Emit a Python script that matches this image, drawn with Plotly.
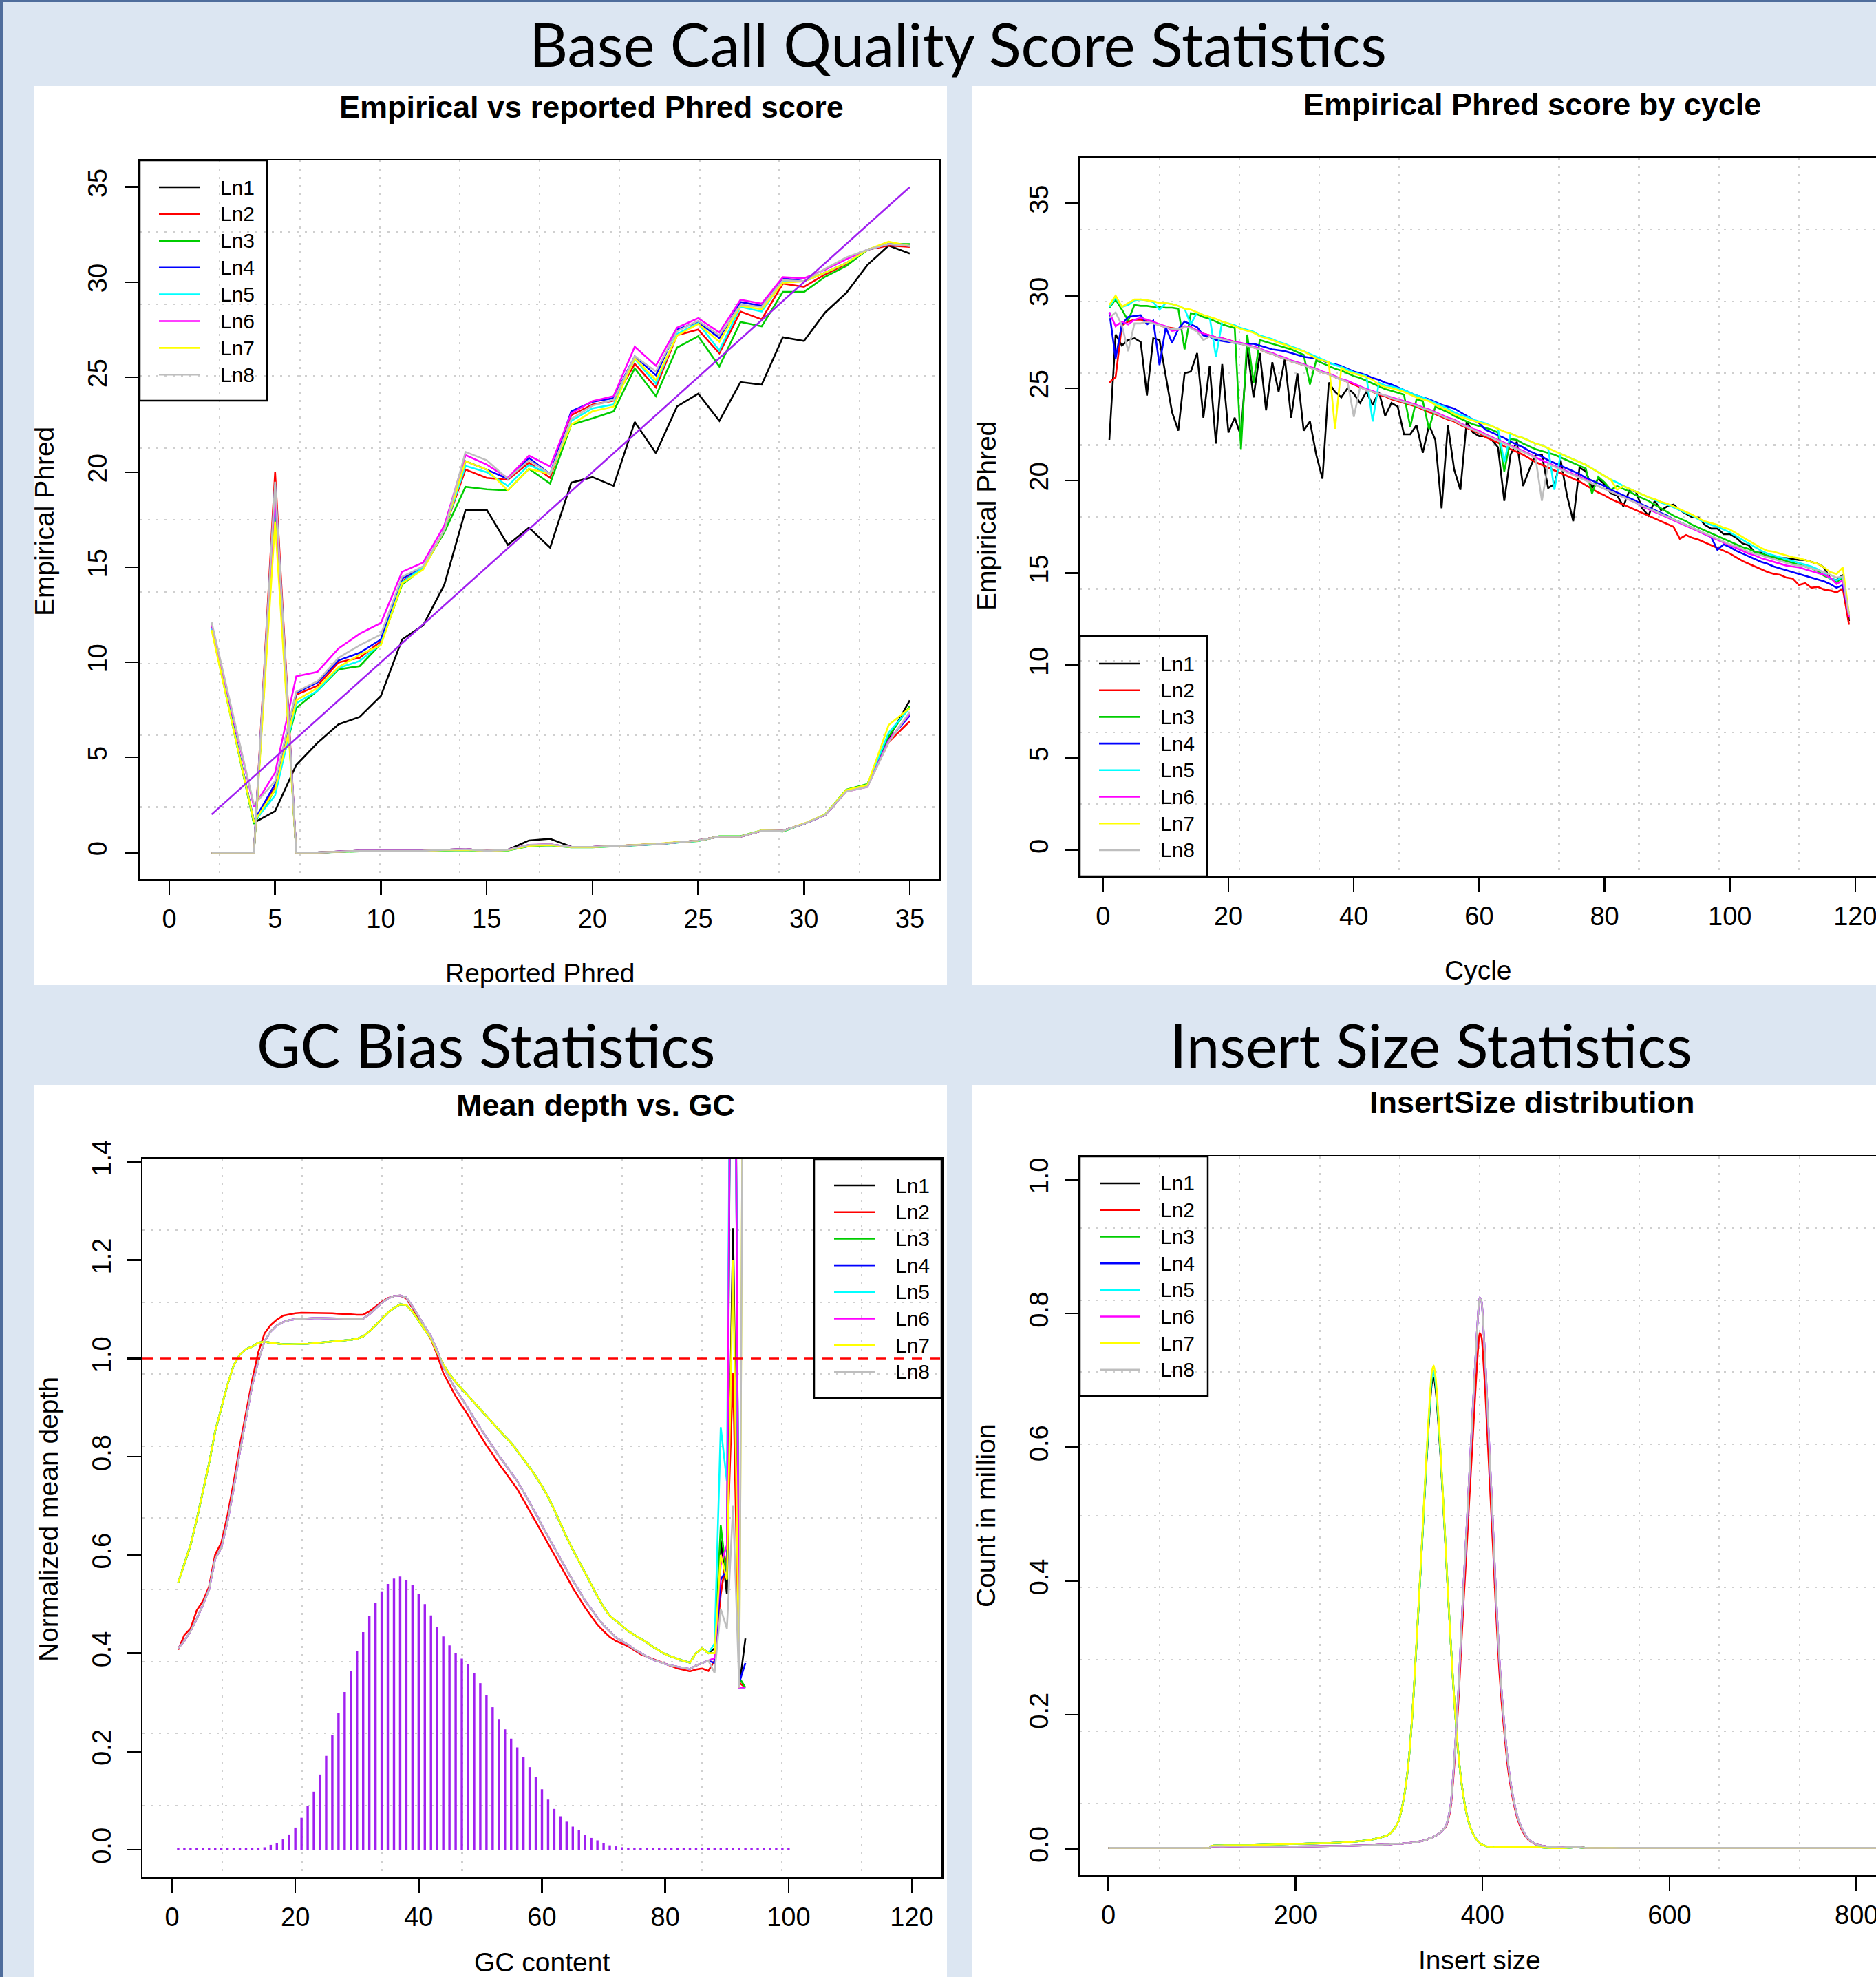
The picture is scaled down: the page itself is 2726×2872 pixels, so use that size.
import plotly.graph_objects as go

W, H = 2726, 2872
FONT = "Liberation Sans, Arial, Helvetica, sans-serif"
SLIDE_FONT = "Lato, Open Sans, sans-serif"

lanes = ["Ln1", "Ln2", "Ln3", "Ln4", "Ln5", "Ln6", "Ln7", "Ln8"]
lane_colors = ["#000000", "#FF0000", "#00CD00", "#0000FF", "#00FFFF", "#FF00FF", "#FFFF00", "#BEBEBE"]

# ---------------- Panel 1: Empirical vs reported Phred ----------------
phred_x = [2, 4, 5, 6, 7, 8, 9, 10, 11, 12, 13, 14, 15, 16, 17, 18, 19, 20, 21, 22, 23, 24, 25, 26, 27, 28, 29, 30, 31, 32, 33, 34, 35]
emp_ln1 = [11.9, 1.56, 2.17, 4.6, 5.76, 6.74, 7.13, 8.23, 11.2, 11.95, 14.08, 18.0, 18.03, 16.18, 17.08, 16.03, 19.45, 19.74, 19.28, 22.64, 21.0, 23.46, 24.13, 22.7, 24.74, 24.6, 27.1, 26.9, 28.4, 29.43, 30.9, 31.92, 31.5]
emp_ln2 = [11.9, 1.6, 3.4, 8.3, 8.77, 10.0, 10.24, 11.1, 14.26, 15.0, 16.96, 20.14, 19.7, 19.6, 20.5, 19.7, 23.0, 23.56, 23.76, 25.7, 24.46, 27.2, 27.5, 26.25, 28.45, 28.04, 29.92, 29.75, 30.4, 30.95, 31.7, 31.92, 31.85]
emp_ln3 = [11.8, 1.5, 3.3, 7.6, 8.5, 9.63, 9.8, 10.97, 14.08, 14.96, 16.84, 19.23, 19.1, 19.04, 20.18, 19.4, 22.5, 22.83, 23.2, 25.47, 24.0, 26.55, 27.15, 25.56, 27.9, 27.67, 29.48, 29.48, 30.28, 30.85, 31.7, 32.0, 32.0]
emp_ln4 = [11.9, 1.65, 3.6, 8.4, 8.94, 10.1, 10.5, 11.2, 14.4, 15.0, 16.96, 20.58, 20.14, 19.65, 20.75, 19.9, 23.2, 23.7, 23.9, 26.1, 25.1, 27.5, 27.9, 27.06, 28.95, 28.75, 30.2, 30.04, 30.5, 31.0, 31.7, 32.0, 31.9]
emp_ln5 = [11.8, 1.6, 3.0, 7.85, 8.5, 9.7, 10.07, 10.97, 14.2, 15.0, 16.96, 20.33, 20.0, 19.28, 20.38, 19.9, 22.7, 23.36, 23.56, 25.96, 24.66, 27.27, 27.84, 26.4, 28.7, 28.45, 30.04, 30.04, 30.5, 31.0, 31.7, 32.0, 31.9]
emp_ln6 = [12.0, 2.4, 4.2, 9.26, 9.5, 10.73, 11.5, 12.07, 14.76, 15.25, 17.2, 20.9, 20.4, 19.7, 20.87, 20.3, 23.1, 23.74, 24.0, 26.6, 25.6, 27.6, 28.1, 27.35, 29.07, 28.87, 30.26, 30.2, 30.65, 31.2, 31.7, 32.0, 31.9]
emp_ln7 = [11.7, 1.6, 3.3, 8.0, 8.65, 9.75, 10.4, 10.9, 14.15, 14.88, 16.96, 20.58, 20.14, 19.04, 20.18, 19.9, 22.5, 23.2, 23.45, 26.0, 24.85, 27.18, 27.8, 26.86, 28.75, 28.57, 29.97, 30.04, 30.5, 31.0, 31.7, 32.12, 31.9]
emp_ln8 = [12.1, 2.5, 3.75, 8.45, 9.0, 10.24, 10.9, 11.46, 14.5, 15.05, 16.96, 21.07, 20.63, 19.65, 20.63, 19.9, 22.8, 23.5, 23.8, 26.1, 25.3, 27.42, 27.96, 27.2, 28.8, 28.7, 30.1, 30.04, 30.7, 31.3, 31.7, 32.0, 31.9]

low_ln1 = [0, 0, 18.6, 0, 0, 0.04, 0.09, 0.09, 0.09, 0.09, 0.14, 0.17, 0.09, 0.14, 0.63, 0.72, 0.3, 0.29, 0.34, 0.39, 0.44, 0.53, 0.63, 0.83, 0.83, 1.14, 1.14, 1.5, 1.97, 3.22, 3.5, 6.0, 8.0]
low_ln2 = [0, 0, 20.0, 0, 0, 0.04, 0.09, 0.09, 0.09, 0.09, 0.14, 0.17, 0.09, 0.14, 0.39, 0.42, 0.29, 0.29, 0.34, 0.39, 0.44, 0.53, 0.63, 0.83, 0.83, 1.14, 1.14, 1.5, 1.97, 3.22, 3.5, 5.8, 6.9]
low_ln3 = [0, 0, 18.0, 0, 0, 0.03, 0.06, 0.06, 0.07, 0.07, 0.1, 0.12, 0.07, 0.1, 0.33, 0.38, 0.27, 0.27, 0.33, 0.38, 0.43, 0.52, 0.6, 0.85, 0.85, 1.16, 1.1, 1.5, 2.0, 3.3, 3.6, 6.1, 7.7]
low_ln4 = [0, 0, 19.4, 0, 0, 0.04, 0.09, 0.09, 0.09, 0.09, 0.14, 0.17, 0.09, 0.14, 0.39, 0.42, 0.29, 0.29, 0.34, 0.39, 0.44, 0.53, 0.63, 0.83, 0.83, 1.14, 1.14, 1.5, 1.97, 3.22, 3.5, 5.9, 7.2]
low_ln5 = [0, 0, 18.8, 0, 0, 0.03, 0.07, 0.07, 0.08, 0.08, 0.12, 0.14, 0.08, 0.12, 0.36, 0.4, 0.28, 0.28, 0.33, 0.38, 0.43, 0.52, 0.61, 0.84, 0.84, 1.15, 1.12, 1.5, 1.98, 3.25, 3.55, 6.3, 7.6]
low_ln6 = [0, 0, 19.0, 0, 0, 0.04, 0.09, 0.09, 0.09, 0.09, 0.14, 0.17, 0.09, 0.14, 0.4, 0.43, 0.29, 0.29, 0.34, 0.39, 0.44, 0.53, 0.63, 0.83, 0.83, 1.14, 1.14, 1.5, 1.97, 3.2, 3.45, 5.9, 7.3]
low_ln7 = [0, 0, 17.4, 0, 0, 0.03, 0.07, 0.07, 0.08, 0.08, 0.12, 0.14, 0.08, 0.12, 0.35, 0.39, 0.28, 0.28, 0.34, 0.39, 0.45, 0.54, 0.62, 0.84, 0.84, 1.16, 1.13, 1.52, 2.0, 3.28, 3.55, 6.7, 7.6]
low_ln8 = [0, 0, 19.5, 0, 0, 0.04, 0.09, 0.09, 0.09, 0.09, 0.14, 0.17, 0.09, 0.14, 0.4, 0.43, 0.29, 0.29, 0.34, 0.39, 0.44, 0.53, 0.63, 0.83, 0.83, 1.14, 1.14, 1.5, 1.97, 3.2, 3.45, 5.8, 7.4]

diag_x = [2, 35]
diag_y = [2, 35]

# ---------------- Panel 2: Empirical Phred by cycle ----------------
cycle_x = list(range(1, 120))
cyc_ln1 = [22.2, 27.9, 27.3, 27.6, 27.7, 27.5, 24.6, 27.7, 27.6, 25.6,
           23.7, 22.7, 25.8, 25.9, 26.9, 23.4, 26.2, 22.0, 26.3, 22.6,
           23.4, 22.4, 27.2, 24.5, 26.9, 23.8, 26.4, 24.8, 26.6, 23.4,
           25.8, 22.7, 23.2, 21.4, 20.1, 25.3, 24.8, 24.5, 25.0, 24.7,
           24.2, 24.8, 24.1, 24.8, 23.5, 24.2, 24.0, 22.5, 22.5, 23.0,
           21.5, 23.0, 22.2, 18.5, 23.0, 20.6, 19.5, 23.2, 22.6, 22.4,
           22.4, 22.2, 21.8, 18.9, 21.4, 22.1, 19.7, 20.6, 21.4, 21.4,
           19.6, 19.8, 21.1, 19.2, 17.8, 20.7, 20.5, 19.6, 20.1, 19.8,
           19.3, 19.2, 18.6, 19.5, 19.4, 18.5, 18.1, 18.9, 18.4, 18.6,
           18.7, 18.4, 18.2, 18.0, 18.0, 17.6, 17.4, 17.4, 17.1, 17.1,
           16.9, 16.6, 16.5, 16.1, 16.1, 15.9, 15.9, 15.8, 15.8, 15.75,
           15.7, 15.7, 15.6, 15.5, 15.3, 14.7, 14.6, 14.9, 12.4]
cyc_ln2 = [25.3, 25.6, 28.4, 28.6, 28.7, 28.7, 28.65, 28.55, 28.4, 28.3,
           28.25, 28.2, 28.3, 28.3, 28.1, 27.95, 27.85, 27.75, 27.7, 27.6,
           27.5, 27.4, 27.3, 27.2, 27.1, 26.95, 26.85, 26.7, 26.6, 26.45,
           26.35, 26.25, 26.1, 26.0, 25.85, 25.75, 25.6, 25.45, 25.35, 25.2,
           25.05, 24.9, 24.8, 24.65, 24.55, 24.4, 24.3, 24.2, 24.1, 24.0,
           23.85, 23.7, 23.6, 23.45, 23.3, 23.2, 23.0, 22.85, 22.7, 22.55,
           22.35, 22.2, 22.05, 21.85, 21.7, 21.55, 21.4, 21.2, 21.0, 20.85,
           20.7, 20.55, 20.4, 20.25, 20.1, 19.95, 19.75, 19.55, 19.35, 19.2,
           19.0, 18.85, 18.7, 18.55, 18.4, 18.25, 18.1, 17.95, 17.8, 17.65,
           17.5, 16.85, 17.05, 16.9, 16.8, 16.65, 16.5, 16.35, 16.2, 16.05,
           15.85, 15.65, 15.5, 15.35, 15.2, 15.05, 14.95, 14.9, 14.75, 14.7,
           14.35, 14.45, 14.2, 14.25, 14.1, 14.05, 13.95, 14.15, 12.2]
cyc_ln3 = [29.35, 29.8, 29.25, 28.65, 29.5, 29.45, 29.45, 29.4, 29.4, 29.35,
           29.35, 29.3, 27.1, 29.05, 29.0, 28.85, 28.75, 28.6, 28.45, 28.35,
           28.25, 21.7, 27.9, 25.3, 27.6, 27.5, 27.4, 27.3, 27.2, 27.1,
           26.95, 26.8, 25.2, 26.5, 26.35, 26.2, 26.05, 25.95, 25.8, 25.65,
           25.55, 25.4, 25.25, 25.1, 24.95, 24.85, 24.75, 24.65, 22.9, 24.4,
           24.3, 22.8, 24.0, 23.85, 23.7, 23.5, 23.35, 23.2, 23.05, 22.95,
           22.85, 22.75, 22.6, 20.5, 22.25, 22.2, 22.0, 21.85, 21.7, 21.6,
           21.5, 21.4, 21.25, 21.1, 20.95, 20.8, 20.65, 19.3, 20.2, 19.9,
           19.5, 19.7, 19.55, 19.4, 19.2, 19.05, 18.9, 18.7, 18.5, 18.3,
           18.1, 17.95, 17.8, 17.6, 17.45, 17.3, 17.15, 17.0, 16.85, 16.7,
           16.55, 16.4, 16.3, 16.15, 16.05, 15.95, 15.85, 15.75, 15.65, 15.55,
           15.45, 15.35, 15.25, 15.1, 14.85, 14.7, 14.5, 14.75, 12.7]
cyc_ln4 = [29.1, 26.6, 28.45, 28.85, 28.9, 28.95, 28.45, 28.65, 26.25, 28.3,
           27.45, 28.2, 28.6, 28.45, 28.3, 27.85, 27.8, 27.6, 27.55, 27.5,
           27.45, 27.4, 27.4, 27.4, 27.3, 27.2, 27.1, 27.05, 27.0, 26.9,
           26.8, 26.7, 26.65, 26.6, 26.5, 26.35, 26.3, 26.2, 26.05, 25.9,
           25.8, 25.7, 25.55, 25.45, 25.3, 25.2, 25.05, 24.9, 24.75, 24.6,
           24.5, 24.4, 24.25, 24.1, 24.0, 23.9, 23.7, 23.5, 23.3, 23.1,
           22.75, 22.6, 22.45, 22.3, 22.1, 21.95, 21.8, 21.6, 21.45, 21.3,
           21.1, 20.95, 20.8, 20.65, 20.5, 20.35, 20.15, 20.0, 19.85, 19.7,
           19.5, 19.35, 19.2, 19.05, 18.9, 18.7, 18.55, 18.4, 18.25, 18.1,
           17.9, 17.75, 17.6, 17.45, 17.3, 17.1, 16.95, 16.25, 16.55, 16.4,
           16.2, 16.05, 15.9, 15.75, 15.6, 15.5, 15.35, 15.25, 15.15, 15.05,
           14.95, 14.85, 14.75, 14.65, 14.55, 14.4, 14.2, 14.35, 12.7]
cyc_ln5 = [29.4, 29.9, 29.4, 29.5, 29.75, 29.8, 29.75, 29.65, 29.25, 29.6,
           29.55, 29.45, 29.3, 28.45, 29.1, 28.95, 28.85, 26.7, 28.6, 28.5,
           28.4, 28.25, 28.15, 28.05, 27.85, 27.75, 27.65, 27.5, 27.4, 27.25,
           27.15, 27.0, 26.85, 26.7, 26.55, 26.4, 26.25, 26.15, 26.0, 25.85,
           25.75, 25.65, 23.2, 25.3, 25.15, 25.1, 25.0, 24.9, 24.75, 24.6,
           24.5, 24.35, 24.2, 24.05, 23.9, 23.7, 23.55, 23.45, 23.3, 23.2,
           23.1, 22.95, 22.8, 21.0, 22.55, 22.4, 22.3, 22.15, 22.0, 21.9,
           21.75, 19.5, 21.45, 21.3, 21.15, 21.0, 20.85, 20.65, 20.45, 20.25,
           20.05, 19.9, 19.7, 19.55, 19.4, 19.25, 19.1, 18.95, 18.8, 18.7,
           18.55, 18.4, 18.25, 18.1, 17.9, 17.75, 17.6, 17.5, 17.35, 17.2,
           17.0, 16.8, 16.6, 16.4, 16.2, 16.05, 15.95, 15.85, 15.75, 15.65,
           15.55, 15.45, 15.35, 15.2, 15.0, 14.7, 14.6, 14.8, 12.7]
cyc_ln6 = [29.1, 28.35, 28.6, 28.45, 28.7, 28.8, 28.7, 28.6, 28.45, 28.35,
           28.1, 28.15, 28.35, 28.3, 28.1, 27.95, 27.85, 27.75, 27.7, 27.6,
           27.5, 27.45, 27.35, 27.25, 27.15, 27.0, 26.9, 26.75, 26.65, 26.5,
           26.4, 26.3, 26.15, 26.05, 25.9, 25.8, 25.65, 25.5, 25.4, 25.25,
           25.1, 24.95, 24.85, 24.7, 24.6, 24.5, 24.4, 24.3, 24.2, 24.1,
           23.95, 23.85, 23.7, 23.55, 23.4, 23.3, 23.1, 22.95, 22.8, 22.7,
           22.5, 22.35, 22.2, 22.05, 21.9, 21.75, 21.6, 21.45, 21.25, 21.1,
           20.95, 20.8, 20.65, 20.5, 20.35, 20.2, 20.05, 19.85, 19.7, 19.55,
           19.4, 19.25, 19.1, 18.95, 18.8, 18.6, 18.45, 18.3, 18.15, 18.0,
           17.85, 17.7, 17.55, 17.4, 17.25, 17.1, 16.95, 16.8, 16.65, 16.5,
           16.35, 16.2, 16.05, 15.95, 15.8, 15.7, 15.6, 15.5, 15.4, 15.35,
           15.3, 15.2, 15.1, 15.0, 14.9, 14.75, 14.4, 14.6, 12.6]
cyc_ln7 = [29.5, 30.0, 29.4, 29.6, 29.8, 29.8, 29.75, 29.7, 29.6, 29.6,
           29.55, 29.45, 29.3, 29.25, 29.1, 28.95, 28.85, 28.75, 28.6, 28.5,
           28.35, 28.2, 28.1, 28.0, 27.8, 27.7, 27.6, 27.45, 27.35, 27.2,
           27.1, 27.0, 26.8, 26.6, 26.5, 26.4, 22.8, 26.1, 25.9, 25.8,
           25.7, 25.6, 25.45, 25.2, 25.05, 25.0, 24.9, 24.8, 24.65, 24.5,
           24.4, 24.3, 24.1, 23.95, 23.8, 23.6, 23.45, 23.35, 23.25, 23.15,
           23.05, 22.95, 22.8, 22.65, 22.55, 22.4, 22.3, 22.15, 22.0, 21.9,
           21.75, 21.6, 21.45, 21.3, 21.15, 21.0, 20.85, 20.65, 20.45, 20.25,
           20.05, 19.5, 19.7, 19.55, 19.4, 19.25, 19.1, 19.0, 18.85, 18.75,
           18.6, 18.45, 18.3, 18.15, 17.95, 17.8, 17.7, 17.6, 17.45, 17.35,
           17.15, 16.95, 16.75, 16.55, 16.35, 16.2, 16.15, 16.05, 15.95, 15.85,
           15.8, 15.7, 15.6, 15.5, 15.3, 15.05, 14.95, 15.3, 12.75]
cyc_ln8 = [28.8, 29.1, 28.4, 27.0, 28.5, 28.5, 28.6, 28.5, 28.4, 28.3,
           28.2, 28.2, 28.3, 28.25, 28.05, 27.6, 27.8, 27.7, 27.65, 27.55,
           27.45, 27.4, 27.3, 27.2, 27.1, 26.95, 26.85, 26.7, 26.6, 26.45,
           26.35, 26.25, 26.1, 26.0, 25.85, 25.75, 25.6, 25.45, 25.35, 23.45,
           25.05, 24.9, 24.8, 24.7, 24.6, 24.45, 24.35, 24.25, 24.15, 24.05,
           23.9, 23.8, 23.65, 23.5, 23.35, 23.25, 23.05, 22.9, 22.75, 22.6,
           22.45, 22.3, 22.15, 22.0, 21.85, 21.7, 21.55, 21.4, 21.2, 18.9,
           20.9, 20.75, 20.6, 20.45, 20.3, 20.15, 20.0, 19.85, 19.7, 19.55,
           19.4, 19.25, 19.1, 18.95, 18.8, 18.65, 18.5, 18.35, 18.2, 18.05,
           17.9, 17.75, 17.6, 17.45, 17.3, 17.15, 17.0, 16.85, 16.7, 16.55,
           16.45, 16.3, 16.15, 16.05, 15.95, 15.85, 15.75, 15.65, 15.55, 15.45,
           15.4, 15.35, 15.25, 15.15, 15.05, 14.9, 14.75, 14.8, 12.7]

# ---------------- Panel 3: Mean depth vs GC ----------------
gc_x = list(range(1, 94))
gc_body_A = [0.544, 0.582, 0.620, 0.672, 0.729, 0.786, 0.852, 0.899, 0.947, 0.986,
             1.008, 1.019, 1.024, 1.032, 1.034, 1.032, 1.030, 1.029, 1.029, 1.029,
             1.029, 1.030, 1.031, 1.032, 1.033, 1.034, 1.035, 1.036, 1.038, 1.040,
             1.045, 1.055, 1.067, 1.080, 1.093, 1.103, 1.110, 1.109, 1.095, 1.076,
             1.058, 1.041, 1.013, 0.988, 0.968, 0.952, 0.938, 0.924, 0.910, 0.896,
             0.882, 0.868, 0.855, 0.841, 0.828, 0.812, 0.795, 0.778, 0.760, 0.740,
             0.718, 0.692, 0.664, 0.636, 0.611, 0.587, 0.563, 0.540, 0.516, 0.494,
             0.476, 0.466, 0.455, 0.445, 0.437, 0.430, 0.422, 0.413, 0.405, 0.398,
             0.393, 0.388, 0.384, 0.381, 0.400, 0.410, 0.400]
gc_body_red = [0.407, 0.437, 0.450, 0.487, 0.506, 0.535, 0.601, 0.625, 0.681, 0.748,
               0.823, 0.890, 0.956, 1.013, 1.051, 1.068, 1.079, 1.087, 1.090, 1.092,
               1.093, 1.093, 1.093, 1.093, 1.092, 1.092, 1.091, 1.091, 1.090, 1.089,
               1.089, 1.096, 1.106, 1.115, 1.123, 1.127, 1.128, 1.122, 1.103, 1.081,
               1.060, 1.039, 1.008, 0.970, 0.947, 0.923, 0.904, 0.885, 0.863, 0.842,
               0.823, 0.805, 0.786, 0.769, 0.752, 0.734, 0.712, 0.690, 0.668, 0.645,
               0.622, 0.600, 0.578, 0.556, 0.533, 0.512, 0.493, 0.475, 0.458, 0.445,
               0.433, 0.425, 0.419, 0.414, 0.406, 0.398, 0.393, 0.388, 0.383, 0.378,
               0.374, 0.369, 0.366, 0.363, 0.367, 0.369, 0.364]
gc_body_B = [0.410, 0.425, 0.445, 0.470, 0.498, 0.530, 0.592, 0.615, 0.668, 0.735,
             0.810, 0.878, 0.945, 0.995, 1.035, 1.055, 1.067, 1.074, 1.078, 1.080,
             1.081, 1.082, 1.082, 1.082, 1.082, 1.082, 1.081, 1.081, 1.080, 1.080,
             1.081, 1.090, 1.102, 1.113, 1.122, 1.127, 1.128, 1.124, 1.106, 1.085,
             1.065, 1.045, 1.017, 0.982, 0.960, 0.937, 0.918, 0.899, 0.878, 0.858,
             0.839, 0.821, 0.802, 0.785, 0.768, 0.750, 0.729, 0.707, 0.684, 0.660,
             0.637, 0.615, 0.592, 0.570, 0.548, 0.527, 0.507, 0.490, 0.472, 0.457,
             0.445, 0.432, 0.424, 0.417, 0.408, 0.400, 0.393, 0.387, 0.382, 0.378,
             0.375, 0.372, 0.370, 0.368, 0.375, 0.380, 0.385]
gc_tail_ln1 = [0.41, 0.63, 0.52, 1.265, 0.33, 0.43]
gc_tail_ln2 = [0.385, 0.52, 0.60, 0.97, 0.34, 0.33]
gc_tail_ln3 = [0.40, 0.66, 0.55, 2.5, 0.35, 0.33]
gc_tail_ln4 = [0.38, 0.55, 0.57, 2.5, 0.34, 0.38]
gc_tail_ln5 = [0.42, 0.86, 0.75, 2.5, 0.33, 0.33]
gc_tail_ln6 = [0.39, 0.58, 0.62, 2.5, 0.33, 0.33]
gc_tail_ln7 = [0.40, 0.60, 0.55, 1.2, 0.33, 2.5]
gc_tail_ln8 = [0.36, 0.49, 0.45, 0.70, 0.33, 2.5]

gc_bins = list(range(1, 101))
gc_hist = [0.003, 0.003, 0.003, 0.003, 0.003, 0.003, 0.003, 0.003, 0.003, 0.003,
           0.003, 0.003, 0.003, 0.003, 0.005, 0.010, 0.014, 0.021, 0.031, 0.045,
           0.065, 0.089, 0.118, 0.153, 0.191, 0.234, 0.278, 0.321, 0.363, 0.405,
           0.443, 0.475, 0.503, 0.526, 0.541, 0.552, 0.556, 0.549, 0.538, 0.521,
           0.500, 0.477, 0.454, 0.434, 0.416, 0.401, 0.389, 0.377, 0.360, 0.339,
           0.315, 0.290, 0.266, 0.245, 0.226, 0.208, 0.189, 0.168, 0.148, 0.123,
           0.102, 0.083, 0.068, 0.057, 0.047, 0.040, 0.030, 0.024, 0.019, 0.014,
           0.009, 0.007, 0.005, 0.003, 0.003, 0.003, 0.003, 0.003, 0.003, 0.003,
           0.003, 0.003, 0.003, 0.003, 0.003, 0.003, 0.003, 0.003, 0.003, 0.003,
           0.003, 0.003, 0.003, 0.003, 0.003, 0.003, 0.003, 0.003, 0.003, 0.003]

# ---------------- Panel 4: Insert size distribution ----------------
ins_x = [0, 20, 50, 100, 108, 110, 150, 200, 250, 280,
         295, 300, 305, 310, 313, 317, 321, 325, 328, 331,
         334, 337, 340, 343, 346, 348, 350, 352, 355, 358,
         361, 363, 366, 369, 372, 375, 377, 380, 383, 386,
         389, 391, 393, 395, 397, 399, 401, 403, 405, 408,
         411, 414, 418, 421, 424, 427, 430, 434, 438, 444,
         450, 458, 470, 490, 500, 510, 550, 600, 650, 700,
         750, 800, 830]
ins_short = [0.001, 0.001, 0.001, 0.001, 0.001, 0.004, 0.005, 0.007, 0.009, 0.013,
             0.018, 0.021, 0.028, 0.040, 0.055, 0.085, 0.130, 0.200, 0.270, 0.345,
             0.420, 0.500, 0.580, 0.650, 0.706, 0.714, 0.695, 0.660, 0.595, 0.520,
             0.440, 0.385, 0.310, 0.240, 0.180, 0.130, 0.105, 0.075, 0.052, 0.036,
             0.025, 0.019, 0.015, 0.011, 0.008, 0.006, 0.005, 0.004, 0.003, 0.003,
             0.002, 0.002, 0.002, 0.002, 0.002, 0.002, 0.002, 0.002, 0.002, 0.002,
             0.002, 0.002, 0.001, 0.001, 0.002, 0.001, 0.001, 0.001, 0.001, 0.001,
             0.001, 0.001, 0.001]
ins_ln1 = [0.001, 0.001, 0.001, 0.001, 0.001, 0.004, 0.005, 0.007, 0.009, 0.013,
           0.018, 0.021, 0.028, 0.040, 0.055, 0.085, 0.130, 0.200, 0.270, 0.345,
           0.420, 0.498, 0.575, 0.643, 0.697, 0.704, 0.686, 0.652, 0.590, 0.517,
           0.438, 0.384, 0.310, 0.240, 0.180, 0.130, 0.105, 0.075, 0.052, 0.036,
           0.025, 0.019, 0.015, 0.011, 0.008, 0.006, 0.005, 0.004, 0.003, 0.003,
           0.002, 0.002, 0.002, 0.002, 0.002, 0.002, 0.002, 0.002, 0.002, 0.002,
           0.002, 0.002, 0.001, 0.001, 0.002, 0.001, 0.001, 0.001, 0.001, 0.001,
           0.001, 0.001, 0.001]
ins_ln7 = [0.001, 0.001, 0.001, 0.001, 0.001, 0.004, 0.005, 0.007, 0.009, 0.013,
           0.018, 0.021, 0.028, 0.040, 0.055, 0.085, 0.130, 0.200, 0.272, 0.348,
           0.424, 0.505, 0.586, 0.658, 0.714, 0.722, 0.703, 0.666, 0.599, 0.522,
           0.441, 0.386, 0.310, 0.240, 0.180, 0.130, 0.105, 0.075, 0.052, 0.036,
           0.025, 0.019, 0.015, 0.011, 0.008, 0.006, 0.005, 0.004, 0.003, 0.003,
           0.002, 0.002, 0.002, 0.002, 0.002, 0.002, 0.002, 0.002, 0.002, 0.002,
           0.002, 0.002, 0.001, 0.001, 0.002, 0.001, 0.001, 0.001, 0.001, 0.001,
           0.001, 0.001, 0.001]
ins_long = [0.001, 0.001, 0.001, 0.001, 0.001, 0.003, 0.003, 0.003, 0.004, 0.005,
            0.006, 0.006, 0.007, 0.007, 0.007, 0.008, 0.008, 0.009, 0.009, 0.010,
            0.011, 0.012, 0.013, 0.015, 0.016, 0.018, 0.019, 0.021, 0.024, 0.028,
            0.034, 0.043, 0.065, 0.115, 0.180, 0.255, 0.315, 0.400, 0.478, 0.560,
            0.640, 0.693, 0.745, 0.792, 0.824, 0.818, 0.780, 0.730, 0.670, 0.580,
            0.490, 0.395, 0.285, 0.225, 0.175, 0.132, 0.100, 0.068, 0.045, 0.025,
            0.013, 0.006, 0.003, 0.002, 0.003, 0.001, 0.001, 0.001, 0.001, 0.001,
            0.001, 0.001, 0.001]
ins_ln2 = [0.001, 0.001, 0.001, 0.001, 0.001, 0.003, 0.003, 0.003, 0.004, 0.005,
           0.006, 0.006, 0.007, 0.007, 0.007, 0.008, 0.008, 0.009, 0.009, 0.010,
           0.011, 0.012, 0.013, 0.015, 0.016, 0.018, 0.019, 0.021, 0.024, 0.028,
           0.033, 0.041, 0.061, 0.108, 0.168, 0.238, 0.294, 0.374, 0.447, 0.524,
           0.598, 0.648, 0.697, 0.741, 0.771, 0.765, 0.729, 0.683, 0.627, 0.542,
           0.458, 0.369, 0.266, 0.210, 0.164, 0.123, 0.094, 0.064, 0.042, 0.023,
           0.012, 0.006, 0.003, 0.002, 0.003, 0.001, 0.001, 0.001, 0.001, 0.001,
           0.001, 0.001, 0.001]

# ---------------- assemble per-lane series ----------------
emp_series = [emp_ln1, emp_ln2, emp_ln3, emp_ln4, emp_ln5, emp_ln6, emp_ln7, emp_ln8]
low_series = [low_ln1, low_ln2, low_ln3, low_ln4, low_ln5, low_ln6, low_ln7, low_ln8]
cyc_series = [cyc_ln1, cyc_ln2, cyc_ln3, cyc_ln4, cyc_ln5, cyc_ln6, cyc_ln7, cyc_ln8]
gc_series = [gc_body_A + gc_tail_ln1, gc_body_red + gc_tail_ln2, gc_body_A + gc_tail_ln3,
             gc_body_B + gc_tail_ln4, gc_body_A + gc_tail_ln5, gc_body_B + gc_tail_ln6,
             gc_body_A + gc_tail_ln7, gc_body_B + gc_tail_ln8]
ins_series = [ins_ln1, ins_ln2, ins_short, ins_long, ins_short, ins_long, ins_ln7, ins_long]

LW = 2.6
fig = go.Figure()

for i, name in enumerate(lanes):
    fig.add_trace(go.Scatter(x=phred_x, y=emp_series[i], mode="lines", name=name,
                             line=dict(color=lane_colors[i], width=LW), xaxis="x", yaxis="y"))
for i, name in enumerate(lanes):
    fig.add_trace(go.Scatter(x=phred_x, y=low_series[i], mode="lines", name=name,
                             line=dict(color=lane_colors[i], width=LW), xaxis="x", yaxis="y"))
fig.add_trace(go.Scatter(x=diag_x, y=diag_y, mode="lines", name="y = x",
                         line=dict(color="#A020F0", width=LW), xaxis="x", yaxis="y"))

for i, name in enumerate(lanes):
    fig.add_trace(go.Scatter(x=cycle_x, y=cyc_series[i], mode="lines", name=name,
                             line=dict(color=lane_colors[i], width=LW), xaxis="x2", yaxis="y2"))

fig.add_trace(go.Bar(x=gc_bins, y=gc_hist, width=0.38, name="GC distribution",
                     marker=dict(color="#A020F0", line=dict(width=0)), xaxis="x3", yaxis="y3"))
for i, name in enumerate(lanes):
    fig.add_trace(go.Scatter(x=gc_x, y=gc_series[i], mode="lines", name=name,
                             line=dict(color=lane_colors[i], width=LW), xaxis="x3", yaxis="y3"))

for i, name in enumerate(lanes):
    fig.add_trace(go.Scatter(x=ins_x, y=ins_series[i], mode="lines", name=name,
                             line=dict(color=lane_colors[i], width=LW, shape="spline", smoothing=0.6),
                             xaxis="x4", yaxis="y4"))


def dx(a, b):
    return [a / W, b / W]


def dy(top, bottom):
    return [1 - bottom / H, 1 - top / H]


def axis(domain, rng, dtick, grid0, gridstep, anchor, mirror=True, fmt=None, angle=None, standoff=3):
    a = dict(domain=domain, range=rng, anchor=anchor, tickmode="linear", tick0=0, dtick=dtick,
             ticks="outside", ticklen=20, tickwidth=2.5, tickcolor="black",
             showline=True, linecolor="black", linewidth=2.5, mirror=mirror,
             showgrid=False, zeroline=False, fixedrange=True, automargin=False,
             ticklabeloverflow="allow",
             tickfont=dict(family=FONT, size=38, color="black"),
             ticklabelstandoff=standoff,
             minor=dict(tickmode="linear", tick0=grid0, dtick=gridstep, showgrid=True,
                        gridcolor="#CFCFCF", gridwidth=2.2, griddash="3px,9px", ticks=""))
    if fmt:
        a["tickformat"] = fmt
    if angle is not None:
        a["tickangle"] = angle
    return a


layout = dict(
    width=W, height=H, margin=dict(l=0, r=0, t=0, b=0, pad=0, autoexpand=False),
    paper_bgcolor="#DCE6F2", plot_bgcolor="white", showlegend=False, barmode="overlay",
    xaxis=axis(dx(203, 1365), [-1.4, 36.4], 5, -1.4, 3.78, "y"),
    yaxis=axis(dy(233, 1277), [-1.4, 36.4], 5, -1.4, 3.78, "x", angle=-90, standoff=10),
    xaxis2=axis(dx(1569, 2726), [-3.72, 123.3], 20, -3.72, 12.744, "y2"),
    yaxis2=axis(dy(229, 1273), [-1.41, 37.47], 5, -1.41, 3.888, "x2", mirror=False, angle=-90, standoff=8),
    xaxis3=axis(dx(207, 1368), [-4.8, 124.8], 20, -4.8, 12.96, "y3"),
    yaxis3=axis(dy(1683, 2727), [-0.056, 1.407], 0.2, -0.056, 0.1463, "x3", fmt=".1f", angle=-90, standoff=8),
    xaxis4=axis(dx(1569, 2726), [-30.6, 820.8], 200, -30.6, 85.5, "y4"),
    yaxis4=axis(dy(1680, 2724), [-0.0398, 1.0348], 0.2, -0.0398, 0.10746, "x4", mirror=False, fmt=".1f", angle=-90, standoff=8),
)

shapes = []
annotations = []


def px(x):
    return x / W


def py(y):
    return 1 - y / H


# slide background panels
for (x0, y0, x1, y1) in [(49, 125, 1376, 1431), (1412, 125, 2726, 1431),
                         (49, 1576, 1376, 2872), (1412, 1576, 2726, 2872)]:
    shapes.append(dict(type="rect", xref="paper", yref="paper", x0=px(x0), x1=px(x1),
                       y0=py(y1), y1=py(y0), fillcolor="white", line=dict(width=0), layer="below"))
shapes.append(dict(type="rect", xref="paper", yref="paper", x0=0, x1=px(5), y0=0, y1=1,
                   fillcolor="#4F6D9C", line=dict(width=0), layer="above"))
shapes.append(dict(type="rect", xref="paper", yref="paper", x0=0, x1=1, y0=py(3), y1=1,
                   fillcolor="#4F6D9C", line=dict(width=0), layer="above"))
# reference line at normalized depth 1.0
shapes.append(dict(type="line", xref="x3 domain", yref="y3", x0=0, x1=1, y0=1.0, y1=1.0,
                   line=dict(color="#FF0000", width=2.6, dash="15px,11px"), layer="above"))


# R-style legend boxes (key lines + labels)
def r_legend(box, lx0, lx1, tx, y_first, step):
    bx0, by0, bx1, by1 = box
    shapes.append(dict(type="rect", xref="paper", yref="paper", x0=px(bx0), x1=px(bx1),
                       y0=py(by1), y1=py(by0), fillcolor="rgba(0,0,0,0)",
                       line=dict(color="black", width=2.5), layer="above"))
    for k, name in enumerate(lanes):
        yk = y_first + k * step
        shapes.append(dict(type="line", xref="paper", yref="paper", x0=px(lx0), x1=px(lx1),
                           y0=py(yk), y1=py(yk), line=dict(color=lane_colors[k], width=2.6),
                           layer="above"))
        annotations.append(dict(text=name, x=px(tx), y=py(yk), xref="paper", yref="paper",
                                showarrow=False, xanchor="left", yanchor="middle",
                                font=dict(family=FONT, size=30, color="black")))


r_legend((203, 233, 388, 582), 231, 291, 318, 272, 38.9)
r_legend((1569, 924, 1754, 1273), 1597, 1656, 1684, 964, 38.7)
r_legend((1183, 1684, 1368, 2031), 1212, 1272, 1299, 1722, 38.7)
r_legend((1569, 1680, 1755, 2028), 1599, 1657, 1684, 1719, 38.7)

layout["shapes"] = shapes


def ann(text, x, y, size, family=FONT, angle=0):
    return dict(text=text, x=px(x), y=py(y), xref="paper", yref="paper", showarrow=False,
                xanchor="center", yanchor="middle", textangle=angle,
                font=dict(family=family, size=size, color="black"))


annotations += [
    ann("Base Call Quality Score Statistics", 1392, 64, 87, SLIDE_FONT),
    ann("GC Bias Statistics", 707, 1517, 87, SLIDE_FONT),
    ann("Insert Size Statistics", 2079, 1517, 87, SLIDE_FONT),
    ann("<b>Empirical vs reported Phred score</b>", 859, 156, 45),
    ann("<b>Empirical Phred score by cycle</b>", 2226, 152, 45),
    ann("<b>Mean depth vs. GC</b>", 865, 1605, 45),
    ann("<b>InsertSize distribution</b>", 2226, 1601, 45),
    ann("Reported Phred", 784, 1413, 39),
    ann("Empirical Phred", 64, 758, 39, angle=-90),
    ann("Cycle", 2148, 1409, 39),
    ann("Empirical Phred", 1433, 750, 39, angle=-90),
    ann("GC content", 787, 2850, 39),
    ann("Normalized mean depth", 70, 2207, 39, angle=-90),
    ann("Insert size", 2150, 2847, 39),
    ann("Count in million", 1432, 2202, 39, angle=-90),
]
layout["annotations"] = annotations

fig.update_layout(**layout)
fig.write_html("out.html", config={"displayModeBar": False, "staticPlot": True},
               post_script="document.body.style.margin='0px';document.body.style.overflow='hidden';")
